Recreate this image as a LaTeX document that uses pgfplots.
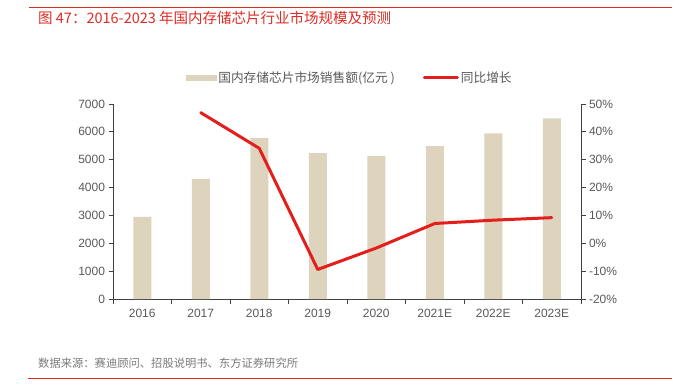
\documentclass[border=0pt]{standalone}
\usepackage{fontspec}
\setmainfont{Liberation Sans}
\newfontfamily\cjk{Noto Sans CJK SC}
\usepackage{pgfplots}
\pgfplotsset{compat=1.18}
\definecolor{titlered}{RGB}{222,45,38}
\definecolor{barbeige}{RGB}{222,212,189}
\definecolor{linered}{RGB}{228,30,28}
\definecolor{ticktext}{RGB}{90,90,90}
\definecolor{axisgray}{RGB}{64,64,64}
\begin{document}
\begin{tikzpicture}[x=1pt,y=1pt]
\useasboundingbox (0,0) rectangle (679,384);
\fill[white] (0,0) rectangle (679,384);
\draw[titlered, line width=0.9pt] (29,377) -- (672,377);
\node[anchor=base west, inner sep=0pt, text=titlered, font=\cjk\fontsize{14.5}{16}\selectfont] at (38,360) {图 47：2016-2023 年国内存储芯片行业市场规模及预测};
\draw[titlered, line width=0.9pt] (28,6) -- (672,6);
\node[anchor=base west, inner sep=0pt, text=ticktext!80, font=\cjk\fontsize{11.3}{13}\selectfont] at (38,17) {数据来源：赛迪顾问、招股说明书、东方证券研究所};
\pgfplotsset{
  common/.style={
    at={(113pt,85pt)}, anchor=south west, scale only axis,
    width=468pt, height=195pt,
    xmin=-0.5, xmax=7.5,
    tick align=outside,
    tick label style={text=ticktext, font=\fontsize{12}{14}\selectfont},
    /pgf/number format/assume math mode=true,
    axis line style={axisgray, line width=0.8pt},
    tick style={axisgray, line width=0.8pt},
    major tick length=4.5pt,
  }
}
\begin{axis}[common,
  axis y line*=left, axis x line*=bottom,
  ymin=0, ymax=7000, ytick={0,1000,...,7000},
  scaled y ticks=false,
  y tick label style={/pgf/number format/1000 sep={}},
  xtick={-0.5,0.5,...,7.5},
  x tick label as interval,
  xticklabels={2016,2017,2018,2019,2020,2021E,2022E,2023E},
  x tick label style={yshift=-2pt},
]
\addplot[ybar, bar width=18pt, fill=barbeige, draw=none] coordinates {
(0,2944) (1,4308) (2,5779) (3,5241) (4,5133) (5,5492) (6,5947) (7,6485)};
\end{axis}
\begin{axis}[common,
  axis y line*=right, axis x line=none,
  ymin=-20, ymax=50, ytick={-20,-10,...,50},
  yticklabel={\pgfmathprintnumber{\tick}\%},
  legend columns=2,
  legend style={at={(0.506,1.135)}, anchor=center, draw=none, fill=none,
    font=\cjk\fontsize{12.7}{14}\selectfont, text=ticktext,
    /tikz/every even column/.append style={column sep=26pt}},
]
\addlegendimage{legend image code/.code={\fill[barbeige] (0pt,-2.8pt) rectangle (30pt,2.8pt);}}
\addlegendentry{国内存储芯片市场销售额(亿元 )}
\addplot[linered, line width=3pt, line join=round, line cap=round,
  legend image code/.code={\draw[linered, line width=3pt, line cap=round] (0pt,0pt) -- (33pt,0pt);}]
  coordinates {(1,46.9) (2,34.1) (3,-9.4) (4,-1.7) (5,7.1) (6,8.3) (7,9.2)};
\addlegendentry{同比增长}
\end{axis}
\end{tikzpicture}
\end{document}
